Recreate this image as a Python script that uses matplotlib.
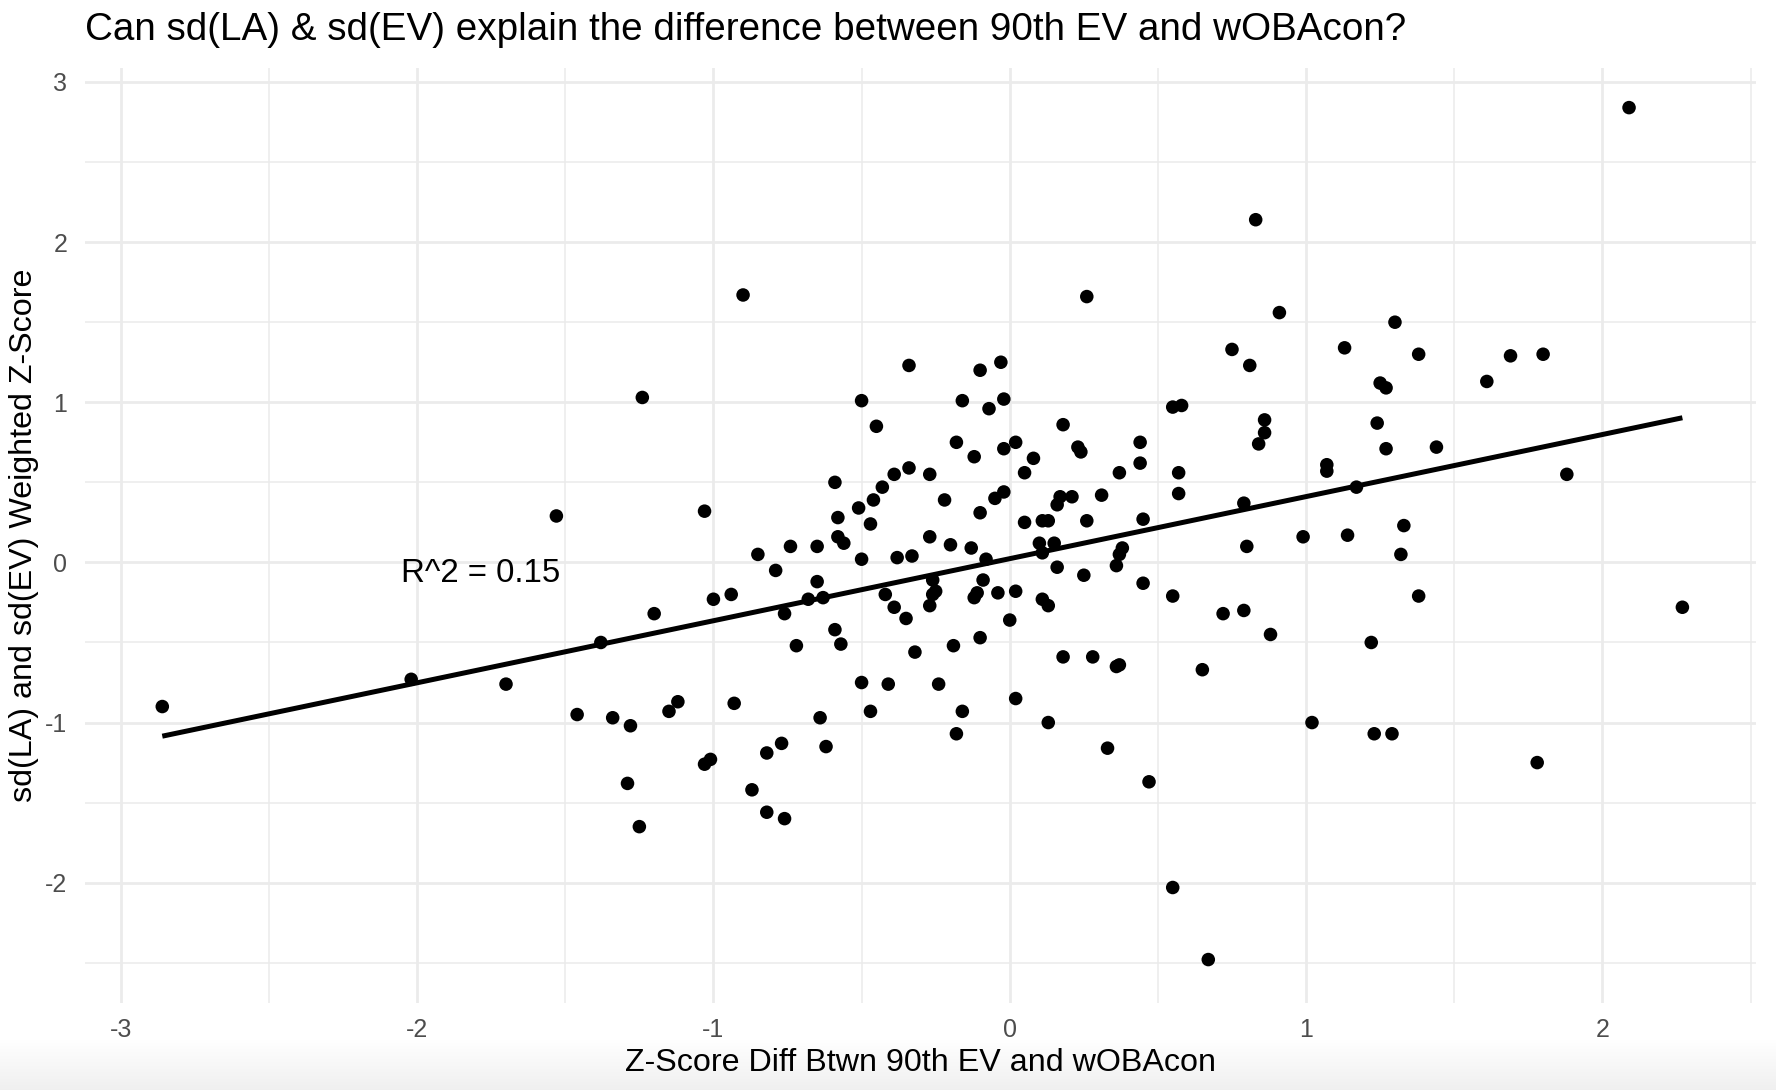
import numpy as np
import matplotlib
matplotlib.use("Agg")
import matplotlib.pyplot as plt
from matplotlib.ticker import MultipleLocator

# values
z_diff = [-2.86, -2.02, -1.70, -1.53, -1.46, -1.38, -1.34, -1.28, -1.29, -1.25,
          -1.24, -1.20, -1.15, -1.12, -1.03, -1.00, -1.01, -1.03, -0.94, -0.93,
          -0.90, -0.85, -0.87, -0.82, -0.82, -0.79, -0.76, -0.77, -0.76, -0.74,
          -0.72, -0.68, -0.65, -0.65, -0.63, -0.64, -0.62, -0.59, -0.59, -0.58,
          -0.58, -0.57, -0.56, -0.51, -0.50, -0.50, -0.50, -0.47, -0.47, -0.46,
          -0.45, -0.43, -0.42, -0.41, -0.39, -0.39, -0.38, -0.35, -0.34, -0.34,
          -0.33, -0.32, -0.27, -0.27, -0.26, -0.27, -0.26, -0.25, -0.24, -0.22,
          -0.20, -0.19, -0.18, -0.18, -0.16, -0.16, -0.13, -0.12, -0.12, -0.11,
          -0.10, -0.10, -0.10, -0.09, -0.08, -0.07, -0.05, -0.04, -0.03, -0.02,
          -0.02, -0.02, 0.00, 0.02, 0.02, 0.02, 0.05, 0.05, 0.08, 0.11,
          0.10, 0.11, 0.11, 0.13, 0.13, 0.13, 0.15, 0.16, 0.16, 0.17,
          0.18, 0.18, 0.21, 0.23, 0.24, 0.25, 0.26, 0.26, 0.28, 0.31,
          0.33, 0.36, 0.36, 0.37, 0.37, 0.37, 0.38, 0.44, 0.44, 0.45,
          0.45, 0.47, 0.55, 0.55, 0.55, 0.58, 0.57, 0.57, 0.65, 0.67,
          0.72, 0.75, 0.79, 0.79, 0.80, 0.81, 0.83, 0.84, 0.86, 0.86,
          0.88, 0.91, 0.99, 1.02, 1.07, 1.07, 1.13, 1.14, 1.17, 1.22,
          1.23, 1.24, 1.25, 1.27, 1.27, 1.29, 1.30, 1.33, 1.32, 1.38,
          1.38, 1.44, 1.61, 1.69, 1.78, 1.80, 1.88, 2.09, 2.27]

sd_z = [-0.90, -0.73, -0.76, 0.29, -0.95, -0.50, -0.97, -1.02, -1.38, -1.65,
        1.03, -0.32, -0.93, -0.87, 0.32, -0.23, -1.23, -1.26, -0.20, -0.88,
        1.67, 0.05, -1.42, -1.19, -1.56, -0.05, -0.32, -1.13, -1.60, 0.10,
        -0.52, -0.23, -0.12, 0.10, -0.22, -0.97, -1.15, -0.42, 0.50, 0.28,
        0.16, -0.51, 0.12, 0.34, 1.01, 0.02, -0.75, -0.93, 0.24, 0.39,
        0.85, 0.47, -0.20, -0.76, 0.55, -0.28, 0.03, -0.35, 0.59, 1.23,
        0.04, -0.56, 0.55, 0.16, -0.11, -0.27, -0.20, -0.18, -0.76, 0.39,
        0.11, -0.52, -1.07, 0.75, 1.01, -0.93, 0.09, 0.66, -0.22, -0.19,
        -0.47, 1.20, 0.31, -0.11, 0.02, 0.96, 0.40, -0.19, 1.25, 1.02,
        0.71, 0.44, -0.36, -0.85, -0.18, 0.75, 0.56, 0.25, 0.65, 0.26,
        0.12, 0.06, -0.23, -1.00, -0.27, 0.26, 0.12, 0.36, -0.03, 0.41,
        0.86, -0.59, 0.41, 0.72, 0.69, -0.08, 0.26, 1.66, -0.59, 0.42,
        -1.16, -0.02, -0.65, -0.64, 0.56, 0.05, 0.09, 0.62, 0.75, 0.27,
        -0.13, -1.37, -0.21, 0.97, -2.03, 0.98, 0.56, 0.43, -0.67, -2.48,
        -0.32, 1.33, -0.30, 0.37, 0.10, 1.23, 2.14, 0.74, 0.89, 0.81,
        -0.45, 1.56, 0.16, -1.00, 0.61, 0.57, 1.34, 0.17, 0.47, -0.50,
        -1.07, 0.87, 1.12, 1.09, 0.71, -1.07, 1.50, 0.23, 0.05, -0.21,
        1.30, 0.72, 1.13, 1.29, -1.25, 1.30, 0.55, 2.84, -0.28]

title_text = "Can sd(LA) & sd(EV) explain the difference between 90th EV and wOBAcon?"
x_label = "Z-Score Diff Btwn 90th EV and wOBAcon"
y_label = "sd(LA) and sd(EV) Weighted Z-Score"
r2_label = "R^2 = 0.15"

plt.rcParams['font.family'] = ['Liberation Sans', 'DejaVu Sans']
plt.rcParams['axes.unicode_minus'] = False

x = np.array(z_diff)
y = np.array(sd_z)

fig = plt.figure(figsize=(17.76, 10.9), dpi=100)

# faint grey shade at the very bottom of the screenshot
shade = fig.add_axes([0, 0, 1, 0.046], zorder=-1)
grad = np.linspace(1.0, 0.94, 50).reshape(-1, 1)
shade.imshow(np.dstack([grad, grad, grad]), aspect='auto', extent=[0, 1, 0, 1])
shade.axis('off')

ax = fig.add_axes([0.048, 0.080, 0.941, 0.858])
ax.set_facecolor('none')

ax.scatter(x, y, s=95, color='black', edgecolors='none', zorder=3)

# linear fit like geom_smooth(method = "lm", se = FALSE)
slope, intercept = np.polyfit(x, y, 1)
xs = np.array([x.min(), x.max()])
ax.plot(xs, slope * xs + intercept, color='black', linewidth=3.6, zorder=4,
        solid_capstyle='butt')

ax.text(-1.785, -0.07, r2_label, fontsize=23.8, ha='center', va='center', color='black')

ax.xaxis.set_major_locator(MultipleLocator(1))
ax.xaxis.set_minor_locator(MultipleLocator(0.5))
ax.yaxis.set_major_locator(MultipleLocator(1))
ax.yaxis.set_minor_locator(MultipleLocator(0.5))
ax.set_xlim(-3.12, 2.52)
ax.set_ylim(-2.75, 3.09)

ax.grid(which='major', color='#ebebeb', linewidth=2.0)
ax.grid(which='minor', color='#ebebeb', linewidth=1.1)
ax.set_axisbelow(True)
for sp in ax.spines.values():
    sp.set_visible(False)
ax.tick_params(which='both', length=0)
ax.tick_params(axis='both', labelsize=18, labelcolor='#4d4d4d')
ax.tick_params(axis='x', pad=11)
ax.tick_params(axis='y', pad=13)

ax.set_xlabel(x_label, fontsize=23.2, labelpad=4)
ax.set_ylabel(y_label, fontsize=23.2, labelpad=4)

fig.text(0.048, 0.963, title_text, fontsize=27.8, ha='left', va='baseline')

fig.savefig("out.png", dpi=100, facecolor='white')
